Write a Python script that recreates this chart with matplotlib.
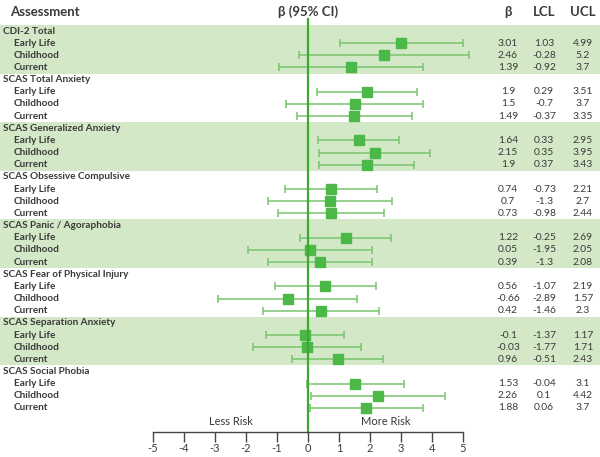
import matplotlib
matplotlib.use("Agg")
import matplotlib.pyplot as plt
from matplotlib.transforms import blended_transform_factory

plt.rcParams["font.family"] = ["Lato", "DejaVu Sans"]
plt.rcParams["axes.unicode_minus"] = False

# ---- data ----
groups = [
    "CDI-2 Total",
    "SCAS Total Anxiety",
    "SCAS Generalized Anxiety",
    "SCAS Obsessive Compulsive",
    "SCAS Panic / Agoraphobia",
    "SCAS Fear of Physical Injury",
    "SCAS Separation Anxiety",
    "SCAS Social Phobia",
]
periods = ["Early Life", "Childhood", "Current"]

beta = [
    [3.01, 2.46, 1.39],
    [1.9, 1.5, 1.49],
    [1.64, 2.15, 1.9],
    [0.74, 0.7, 0.73],
    [1.22, 0.05, 0.39],
    [0.56, -0.66, 0.42],
    [-0.1, -0.03, 0.96],
    [1.53, 2.26, 1.88],
]
lcl = [
    [1.03, -0.28, -0.92],
    [0.29, -0.7, -0.37],
    [0.33, 0.35, 0.37],
    [-0.73, -1.3, -0.98],
    [-0.25, -1.95, -1.3],
    [-1.07, -2.89, -1.46],
    [-1.37, -1.77, -0.51],
    [-0.04, 0.1, 0.06],
]
ucl = [
    [4.99, 5.2, 3.7],
    [3.51, 3.7, 3.35],
    [2.95, 3.95, 3.43],
    [2.21, 2.7, 2.44],
    [2.69, 2.05, 2.08],
    [2.19, 1.57, 2.3],
    [1.17, 1.71, 2.43],
    [3.1, 4.42, 3.7],
]

x_ticks = [-5, -4, -3, -2, -1, 0, 1, 2, 3, 4, 5]

# ---- styling ----
W, H = 600, 457
BAND = "#d3e8c7"
MARK = "#4cb847"
BAR = "#79c46f"
ZERO = "#3aab2c"
TXT = "#3a3a3a"

# pixel mapping used to place the plotting area
X0_PX, PX_PER_UNIT = 308, 31.0
ROW0_PX, ROW_PX = 31, 12.16

fig = plt.figure(figsize=(W / 100, H / 100), dpi=100)
ax = fig.add_axes([0, 0, 1, 1])
ax.set_xlim(-X0_PX / PX_PER_UNIT, (W - X0_PX) / PX_PER_UNIT)
ax.set_ylim((H - ROW0_PX) / ROW_PX, -ROW0_PX / ROW_PX)
ax.axis("off")

fax = blended_transform_factory(ax.transAxes, ax.transData)

row = 0
for g, name in enumerate(groups):
    if g % 2 == 0:
        ax.axhspan(row - 0.5, row + 3.5, color=BAND, lw=0, zorder=0)
    ax.text(3 / W, row, name, transform=fax, fontsize=7.2, color=TXT,
            fontweight="bold", va="center", ha="left")
    for k, p in enumerate(periods):
        r = row + 1 + k
        b, lo, hi = beta[g][k], lcl[g][k], ucl[g][k]
        ax.text(14 / W, r, p, transform=fax, fontsize=7.2, color=TXT,
                fontweight="bold", va="center", ha="left")
        ax.errorbar(b, r, xerr=[[b - lo], [hi - b]], fmt="none", ecolor=BAR,
                    elinewidth=1.1, capsize=3.2, capthick=1.1, zorder=3)
        ax.plot(b, r, marker="s", ms=6.8, color=MARK, zorder=4)
        for xp, val in zip([508, 544, 583], [b, lo, hi]):
            ax.text(xp / W, r, str(val), transform=fax, fontsize=7.4,
                    color=TXT, va="center", ha="center")
    row += 4

# zero reference line
y_top = (19 - ROW0_PX) / ROW_PX
y_bot = (432 - ROW0_PX) / ROW_PX
ax.plot([0, 0], [y_top, y_bot], color=ZERO, lw=1.6, zorder=5)

# header
hy = (12 - ROW0_PX) / ROW_PX
ax.text(10 / W, hy, "Assessment", transform=fax, fontsize=9.5,
        fontweight="bold", color=TXT, va="center", ha="left")
ax.text(0, hy, "β (95% CI)", fontsize=9.5, fontweight="bold", color=TXT,
        va="center", ha="center")
for xp, lab in zip([508, 544, 583], ["β", "LCL", "UCL"]):
    ax.text(xp / W, hy, lab, transform=fax, fontsize=9.5, fontweight="bold",
            color=TXT, va="center", ha="center")

ly = (421 - ROW0_PX) / ROW_PX
ax.text(-2.5, ly, "Less Risk", fontsize=8, color=TXT, va="center", ha="center")
ax.text(2.5, ly, "More Risk", fontsize=8, color=TXT, va="center", ha="center")

# bottom scale
left = (X0_PX - 5 * PX_PER_UNIT) / W
bax = fig.add_axes([left, (H - 432) / H, 10 * PX_PER_UNIT / W, 0.0001])
bax.set_xlim(-5, 5)
bax.set_yticks([])
for s in ["top", "left", "right"]:
    bax.spines[s].set_visible(False)
bax.spines["bottom"].set_color("#444444")
bax.spines["bottom"].set_linewidth(1.0)
bax.set_xticks(x_ticks)
bax.tick_params(axis="x", direction="out", length=7, width=1.0,
                color="#444444", labelsize=8, labelcolor=TXT, pad=1)
bax.patch.set_alpha(0)

fig.savefig("out.png", dpi=100)
